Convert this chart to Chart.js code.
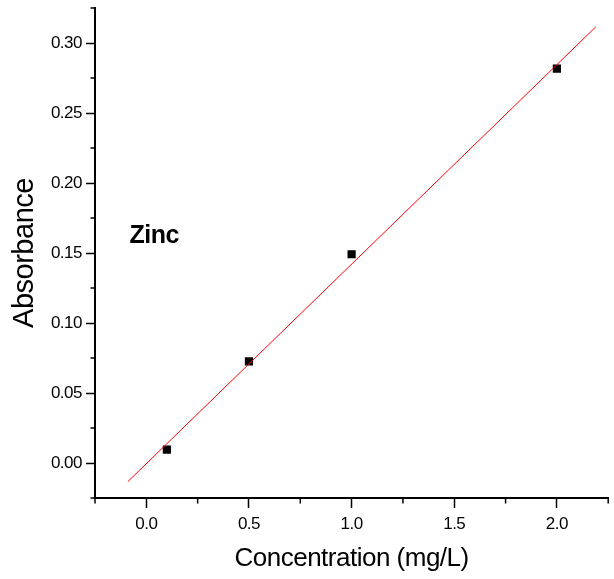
<!DOCTYPE html>
<html>
<head>
<meta charset="utf-8">
<script src="https://cdn.jsdelivr.net/npm/chart.js@4/dist/chart.umd.min.js"></script>
<style>
html,body{margin:0;padding:0;background:#fff;}
#wrap{width:614px;height:579px;}
</style>
</head>
<body>
<div id="wrap"><canvas id="c" width="614" height="579"></canvas></div>
<script>
// ---- data ----
const concentrations = [0.1, 0.5, 1.0, 2.0];
const absorbance = [0.0096, 0.0726, 0.1491, 0.2817];
const fitX = [-0.09, 2.19];
const fitY = [-0.0133, 0.3116];
const xTicks = [0.0, 0.5, 1.0, 1.5, 2.0];
const xMinorTicks = [-0.25, 0.25, 0.75, 1.25, 1.75, 2.25];
const yTicks = [0.00, 0.05, 0.10, 0.15, 0.20, 0.25, 0.30];
const yMinorTicks = [-0.025, 0.025, 0.075, 0.125, 0.175, 0.225, 0.275, 0.325];
const xRange = [-0.25, 2.25];
const yRange = [-0.025, 0.325];
const xTitle = 'Concentration (mg/L)';
const yTitle = 'Absorbance';
const annotationText = 'Zinc';
const annotationAt = [-0.082, 0.157];

const FONT = '"Liberation Sans", Arial, sans-serif';

const tightTextPlugin = {
  id: 'tightText',
  beforeDraw(chart) {
    try { chart.ctx.letterSpacing = '-0.5px'; } catch (e) {}
  }
};

const minorTicksPlugin = {
  id: 'minorTicks',
  afterDraw(chart) {
    const ctx = chart.ctx;
    const xs = chart.scales.x, ys = chart.scales.y;
    const area = chart.chartArea;
    ctx.save();
    ctx.strokeStyle = '#000';
    ctx.lineWidth = 1.5;
    ctx.beginPath();
    xMinorTicks.forEach(v => {
      const px = xs.getPixelForValue(v);
      ctx.moveTo(px, area.bottom);
      ctx.lineTo(px, area.bottom + 5.5);
    });
    yMinorTicks.forEach(v => {
      const py = ys.getPixelForValue(v);
      ctx.moveTo(area.left, py);
      ctx.lineTo(area.left - 4.5, py);
    });
    ctx.stroke();
    // annotation
    ctx.fillStyle = '#000';
    ctx.font = 'bold 25px ' + FONT;
    ctx.textBaseline = 'alphabetic';
    ctx.textAlign = 'left';
    try { ctx.letterSpacing = '-0.5px'; } catch (e) {}
    ctx.fillText(annotationText, xs.getPixelForValue(annotationAt[0]), ys.getPixelForValue(annotationAt[1]));
    ctx.restore();
  }
};

new Chart(document.getElementById('c'), {
  type: 'scatter',
  data: {
    datasets: [
      {
        type: 'line',
        label: 'fit',
        data: fitX.map((x, i) => ({x, y: fitY[i]})),
        borderColor: '#ff0000',
        borderWidth: 1,
        pointRadius: 0,
        fill: false,
        tension: 0
      },
      {
        label: 'Zinc',
        data: concentrations.map((x, i) => ({x, y: absorbance[i]})),
        pointStyle: 'rect',
        pointRadius: 5.8,
        pointBorderWidth: 0,
        backgroundColor: '#000',
        borderColor: '#000'
      }
    ]
  },
  options: {
    responsive: false,
    animation: false,
    devicePixelRatio: 1,
    layout: { padding: { top: 8, right: 3, left: 0, bottom: 0 } },
    plugins: { legend: { display: false }, tooltip: { enabled: false } },
    scales: {
      x: {
        type: 'linear',
        min: xRange[0], max: xRange[1],
        afterBuildTicks(scale) { scale.ticks = xTicks.map(v => ({value: v})); },
        afterFit(scale) { scale.height = 81; scale.paddingLeft = 0; scale.paddingRight = 0; },
        grid: { drawOnChartArea: false, drawTicks: true, tickLength: 10, tickColor: '#000', tickWidth: 1.5 },
        border: { display: true, color: '#000', width: 2 },
        ticks: {
          color: '#000', padding: 6,
          font: { family: FONT, size: 17 },
          maxRotation: 0,
          callback: v => Number(v).toFixed(1)
        },
        title: {
          display: true, text: xTitle, color: '#000',
          font: { family: FONT, size: 26, lineHeight: 1 },
          padding: { top: 0, bottom: 7 }
        }
      },
      y: {
        type: 'linear',
        min: yRange[0], max: yRange[1],
        afterBuildTicks(scale) { scale.ticks = yTicks.map(v => ({value: v})); },
        afterFit(scale) { scale.width = 95; scale.paddingTop = 0; scale.paddingBottom = 0; },
        grid: { drawOnChartArea: false, drawTicks: true, tickLength: 9, tickColor: '#000', tickWidth: 1.5 },
        border: { display: true, color: '#000', width: 2 },
        ticks: {
          color: '#000', padding: 4,
          font: { family: FONT, size: 17 },
          callback: v => Number(v).toFixed(2)
        },
        title: {
          display: true, text: yTitle, color: '#000',
          font: { family: FONT, size: 29, lineHeight: 1 },
          padding: { top: 10, bottom: 0 }
        }
      }
    }
  },
  plugins: [tightTextPlugin, minorTicksPlugin]
});
</script>
</body>
</html>
